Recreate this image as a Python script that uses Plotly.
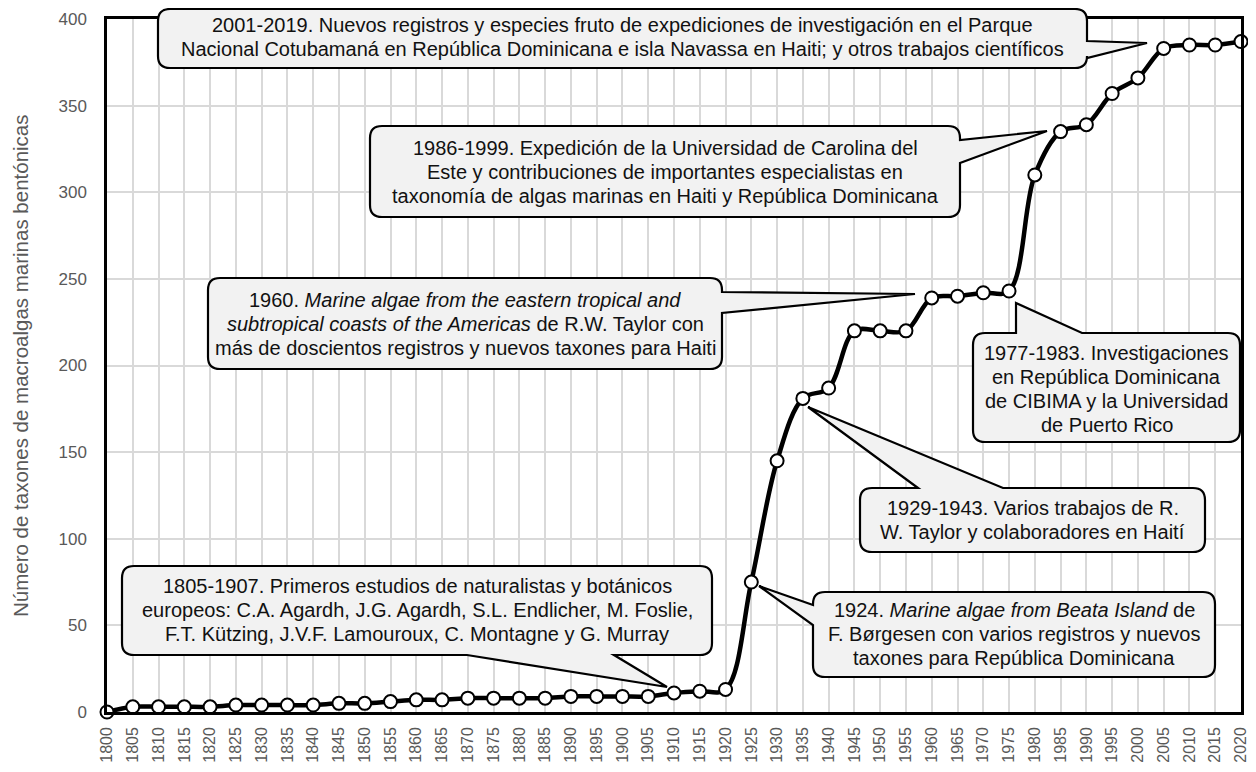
import plotly.graph_objects as go

# ---------------- data ----------------
years = list(range(1800, 2021, 5))
taxa = [0, 3, 3, 3, 3, 4, 4, 4, 4, 5, 5, 6, 7, 7, 8, 8, 8, 8, 9, 9, 9, 9, 11, 12, 13,
        75, 145, 181, 187, 220, 220, 220, 239, 240, 242, 243, 310, 335, 339, 357, 366,
        383, 385, 385, 387]
tick_years = list(range(1800, 2021, 5))
y_ticks = list(range(0, 401, 50))
y_title = "Número de taxones de macroalgas marinas bentónicas"

callout_lines = [
    ["2001-2019. Nuevos registros y especies fruto de expediciones de investigación en el Parque",
     "Nacional Cotubamaná en República Dominicana e isla Navassa en Haiti; y otros trabajos científicos"],
    ["1986-1999. Expedición de la Universidad de Carolina del",
     "Este y contribuciones de importantes especialistas en",
     "taxonomía de algas marinas en Haiti y República Dominicana"],
    ["1960. <i>Marine algae from the eastern tropical and</i>",
     "<i>subtropical coasts of the Americas</i> de R.W. Taylor con",
     "más de doscientos registros y nuevos taxones para Haiti"],
    ["1977-1983. Investigaciones", "en República Dominicana",
     "de CIBIMA y la Universidad", "de Puerto Rico"],
    ["1929-1943. Varios trabajos de R.", "W. Taylor y colaboradores en Haití"],
    ["1924. <i>Marine algae from Beata Island</i> de",
     "F. Børgesen con varios registros y nuevos",
     "taxones para República Dominicana"],
    ["1805-1907. Primeros estudios de naturalistas y botánicos",
     "europeos: C.A. Agardh, J.G. Agardh, S.L. Endlicher, M. Foslie,",
     "F.T. Kützing, J.V.F. Lamouroux, C. Montagne y G. Murray"],
]

# ---------------- layout geometry (viewport pixels) ----------------
OFF = 8                      # page body margin
FW, FH = 1248, 764           # figure size
PL, PT, PR, PB = 107, 19, 1241, 712   # plot area in viewport pixels
L, T = PL - OFF, PT - OFF
R, B = FW - (PR - OFF), FH - (PB - OFF)
PW, PH = PR - PL, PB - PT


def px2paper(x, y):
    return (x - PL) / PW, 1 - (y - PT) / PH


# box (x0, y0, x1, y1), wedge side, wedge base (b0, b1), tip, text centre y
callout_geom = [
    ((158, 9, 1087, 68), "right", (41, 58), (1147, 43), 37),
    ((370, 126, 960, 217), "right", (140, 163), (1047, 131), 172),
    ((208, 278, 722, 369), "right", (292, 313), (915, 294), 324),
    ((973, 333, 1240, 442), "top", (1016, 1082), (1016, 303), 389),
    ((860, 488, 1205, 552), "top", (918, 1003), (808, 407), 520),
    ((813, 592, 1215, 677), "left", (605, 625), (759, 586), 634),
    ((122, 566, 712, 655), "bottom", (467, 614), (667, 687), 610),
]
LINE_SP = 23.7
CALLOUT_FONT = 20


def callout_path(box, side, base, tip, r=12):
    x0, y0, x1, y1 = box
    b0, b1 = base
    parts = []

    def P(cmd, *xy):
        coords = []
        for i in range(0, len(xy), 2):
            px, py = px2paper(xy[i], xy[i + 1])
            coords.append(f"{px:.5f},{py:.5f}")
        parts.append(cmd + " " + " ".join(coords))

    P("M", x0 + r, y0)
    if side == "top":
        P("L", b0, y0); P("L", *tip); P("L", b1, y0)
    P("L", x1 - r, y0)
    P("Q", x1, y0, x1, y0 + r)
    if side == "right":
        P("L", x1, b0); P("L", *tip); P("L", x1, b1)
    P("L", x1, y1 - r)
    P("Q", x1, y1, x1 - r, y1)
    if side == "bottom":
        P("L", b1, y1); P("L", *tip); P("L", b0, y1)
    P("L", x0 + r, y1)
    P("Q", x0, y1, x0, y1 - r)
    if side == "left":
        P("L", x0, b1); P("L", *tip); P("L", x0, b0)
    P("L", x0, y0 + r)
    P("Q", x0, y0, x0 + r, y0)
    return " ".join(parts) + " Z"


FONT = "Liberation Sans, Arial, sans-serif"

fig = go.Figure()
fig.add_trace(go.Scatter(
    x=years, y=taxa, mode="lines+markers",
    line=dict(color="black", width=4.5, shape="spline", smoothing=1.0),
    marker=dict(size=13, color="white", line=dict(color="black", width=2)),
    cliponaxis=False, showlegend=False, hoverinfo="x+y",
))

shapes = []
annotations = []
for (box, side, base, tip, tcy), lines in zip(callout_geom, callout_lines):
    shapes.append(dict(type="path", xref="paper", yref="paper",
                       path=callout_path(box, side, base, tip),
                       fillcolor="#f2f2f2", line=dict(color="black", width=2.2),
                       layer="above"))
    cx = (box[0] + box[2]) / 2
    n = len(lines)
    for i, ln in enumerate(lines):
        ly = tcy + (i - (n - 1) / 2) * LINE_SP
        ax, ay = px2paper(cx, ly)
        annotations.append(dict(xref="paper", yref="paper", x=ax, y=ay, text=ln,
                                showarrow=False, xanchor="center", yanchor="middle",
                                align="center",
                                font=dict(family=FONT, size=CALLOUT_FONT, color="#111111")))

tx, ty = px2paper(20.5, (PT + PB) / 2)
annotations.append(dict(xref="paper", yref="paper", x=tx, y=ty, text=y_title,
                        textangle=-90, showarrow=False, xanchor="center", yanchor="middle",
                        font=dict(family=FONT, size=20.5, color="#595959")))

fig.update_layout(
    width=FW, height=FH,
    margin=dict(l=L, r=R, t=T, b=B, pad=0, autoexpand=False),
    paper_bgcolor="white", plot_bgcolor="white",
    shapes=shapes, annotations=annotations,
    font=dict(family=FONT),
)
fig.update_xaxes(
    range=[1800, 2020], tickmode="array", tickvals=tick_years,
    ticktext=[str(v) for v in tick_years], tickangle=-90,
    tickfont=dict(family=FONT, size=16, color="#595959"),
    showgrid=True, gridcolor="#d9d9d9", gridwidth=1.5,
    showline=True, linecolor="black", linewidth=2.5, mirror=True,
    ticks="", ticklabelstandoff=6, zeroline=False,
)
fig.update_yaxes(
    range=[0, 400], tickmode="array", tickvals=y_ticks,
    tickfont=dict(family=FONT, size=17, color="#595959"),
    showgrid=True, gridcolor="#d9d9d9", gridwidth=1.5,
    showline=True, linecolor="black", linewidth=2.5, mirror=True,
    ticks="outside", ticklen=14, tickcolor="rgba(0,0,0,0)", zeroline=False,
)

fig.write_html("out.html")
